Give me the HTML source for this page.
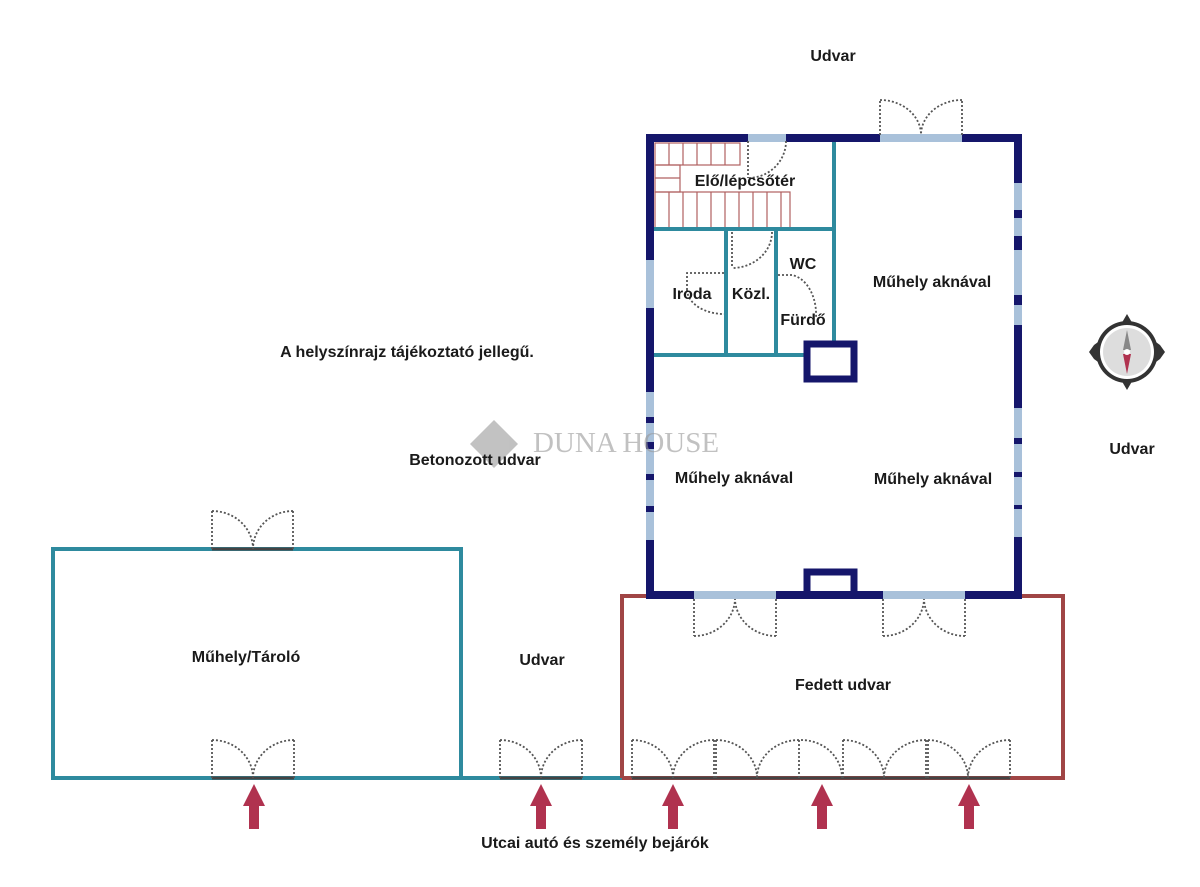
<!DOCTYPE html>
<html><head><meta charset="utf-8"><style>
html,body{margin:0;padding:0;background:#fff;}
svg{display:block}
text{font-family:"Liberation Sans",sans-serif;font-weight:bold;font-size:16px;fill:#1a1a1a;text-anchor:middle}
</style></head><body>
<svg width="1200" height="887" viewBox="0 0 1200 887" xmlns="http://www.w3.org/2000/svg">
<rect width="1200" height="887" fill="#fff"/>
<g stroke="#b06060" stroke-width="1.2" fill="none">
<rect x="655" y="143" width="85" height="22"/>
<rect x="655" y="165" width="25" height="27"/>
<rect x="655" y="192" width="135" height="36"/>
<path d="M669 143V165M683 143V165M697 143V165M711 143V165M725 143V165M669 192V228M683 192V228M697 192V228M711 192V228M725 192V228M739 192V228M753 192V228M767 192V228M781 192V228M655 178H680"/>
</g>
<g stroke="#2e8a9e" stroke-width="4" fill="none">
<path d="M654 229H834M834 140V345M654 355H805M726 229V355M776 229V355"/>
<path d="M461 778H53V549H461V778H622"/>
</g>
<path d="M622 778V596H1063V778H622" stroke="#a04545" stroke-width="4" fill="none"/>
<g stroke="#15166b" stroke-width="8" fill="none" stroke-linecap="square">
<rect x="650" y="138" width="368" height="457"/>
<rect x="807" y="344" width="47" height="35" stroke-width="7"/>
<path d="M807 595V572H854V595" stroke-width="7"/>
</g>
<g stroke="#a9c1da" stroke-width="8">
<path d="M650 260V308M650 392V540"/>
<path d="M1018 183V325M1018 408V537"/>
<path d="M748 138H786"/>
<path d="M880 138H962M694 595H776M883 595H965"/>
</g>
<g stroke="#15166b" stroke-width="8">
<path d="M650 417V423M650 442V449M650 474V480M650 506V512"/>
<path d="M1018 210V218M1018 236V250M1018 295V305M1018 438V444M1018 472V477M1018 505V509"/>
</g>
<g stroke="#444" stroke-width="3">
<path d="M212 549H293M212 778H294M500 778H582M632 778H1010"/>
</g>
<g stroke="#555" stroke-width="1.8" stroke-dasharray="2,2" fill="none">
<path d="M880 135V100M880 100A41 35 0 0 1 921 135M962 135V100M962 100A41 35 0 0 0 921 135"/>
<path d="M212 549V511M212 511A41 38 0 0 1 253 549M293 549V511M293 511A40 38 0 0 0 253 549"/>
<path d="M212 778V740M212 740A41 38 0 0 1 253 778M294 778V740M294 740A41 38 0 0 0 253 778"/>
<path d="M500 778V740M500 740A41 38 0 0 1 541 778M582 778V740M582 740A41 38 0 0 0 541 778"/>
<path d="M632 778V740M632 740A41 38 0 0 1 673 778M714 778V740M714 740A41 38 0 0 0 673 778"/>
<path d="M716 778V740M716 740A41 38 0 0 1 757 778M799 778V740M799 740A42 38 0 0 0 757 778"/>
<path d="M801 740A41 38 0 0 1 842 778"/>
<path d="M843 778V740M843 740A41 38 0 0 1 884 778M926 778V740M926 740A42 38 0 0 0 884 778"/>
<path d="M928 778V740M928 740A41 38 0 0 1 968 778M1010 778V740M1010 740A42 38 0 0 0 968 778"/>
<path d="M694 599V636M694 636A41 38 0 0 0 735 599M776 599V636M776 636A41 38 0 0 1 735 599"/>
<path d="M883 599V636M883 636A41 38 0 0 0 924 599M965 599V636M965 636A41 38 0 0 1 924 599"/>
<path d="M748 141V178M786 141A38 37 0 0 1 748 178"/>
<path d="M732 232V268M772 232A40 36 0 0 1 732 268"/>
<path d="M724 273H687V290M687 290A37 25 0 0 0 724 314"/>
<path d="M778 275H792A28 40 0 0 1 816 318"/>
</g>
<g fill="#b0324f">
<path d="M254 784L243 806H249V829H259V806H265Z"/>
<path d="M541 784L530 806H536V829H546V806H552Z"/>
<path d="M673 784L662 806H668V829H678V806H684Z"/>
<path d="M822 784L811 806H817V829H827V806H833Z"/>
<path d="M969 784L958 806H964V829H974V806H980Z"/>
</g>
<g>
<path d="M1127 314L1134 326L1160 345L1165 352L1160 359L1134 378L1127 390L1120 378L1094 359L1089 352L1094 345L1120 326Z" fill="#333"/>
<circle cx="1127" cy="352" r="31" fill="#333"/>
<circle cx="1127" cy="352" r="27" fill="#fff"/>
<circle cx="1127" cy="352" r="24" fill="#ddd"/>
<path d="M1127 330L1131 350H1123Z" fill="#888"/>
<path d="M1127 374L1131 354H1123Z" fill="#b0324f"/>
<circle cx="1127" cy="352" r="3" fill="#fff"/>
</g>
<g opacity="0.6">
<path d="M494 420L518 444L494 468L470 444Z" fill="#999"/>
<text x="626" y="452" style="font-family:'Liberation Serif',serif;font-weight:normal;font-size:29px;fill:#999">DUNA HOUSE</text>
</g>
<text x="833" y="61">Udvar</text>
<text x="745" y="186">Elő/lépcsőtér</text>
<text x="692" y="299">Iroda</text>
<text x="751" y="299">Közl.</text>
<text x="803" y="269">WC</text>
<text x="803" y="325">Fürdő</text>
<text x="932" y="287">Műhely aknával</text>
<text x="407" y="357">A helyszínrajz tájékoztató jellegű.</text>
<text x="475" y="465">Betonozott udvar</text>
<text x="734" y="483">Műhely aknával</text>
<text x="933" y="484">Műhely aknával</text>
<text x="1132" y="454">Udvar</text>
<text x="246" y="662">Műhely/Tároló</text>
<text x="542" y="665">Udvar</text>
<text x="843" y="690">Fedett udvar</text>
<text x="595" y="848">Utcai autó és személy bejárók</text>
</svg>
</body></html>
